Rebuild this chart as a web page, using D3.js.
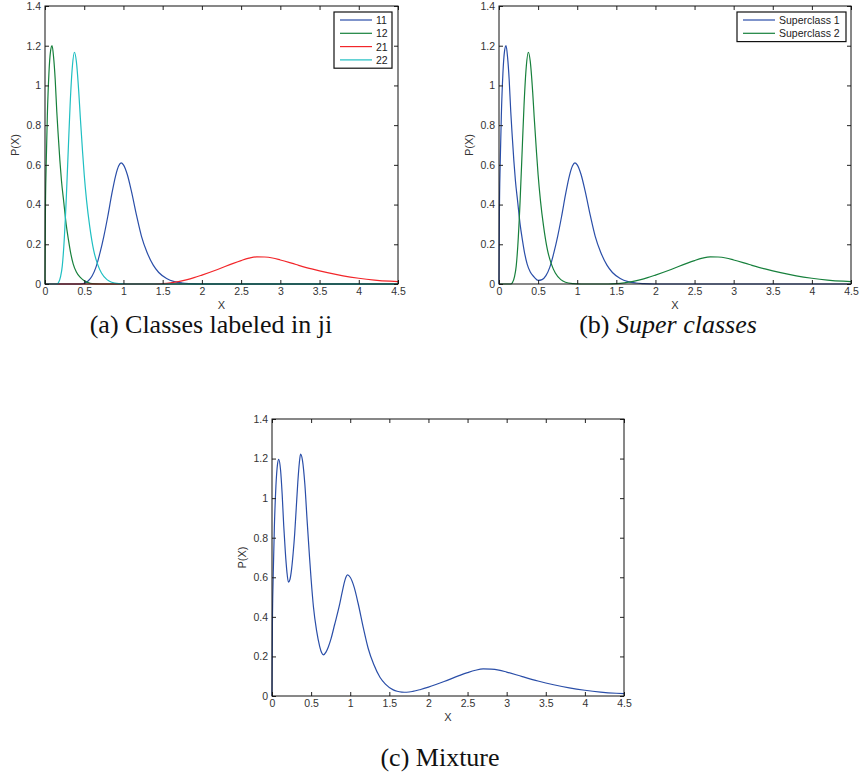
<!DOCTYPE html>
<html>
<head>
<meta charset="utf-8">
<script src="https://cdn.jsdelivr.net/npm/d3@7/dist/d3.min.js"></script>
<style>
  body { margin: 0; background: #fff; }
  svg { display: block; }
  .tick text { font-family: "Liberation Sans", Arial, sans-serif; font-size: 10.5px; fill: #333; }
  .tick line { stroke: #222; }
  .lab { font-family: "Liberation Sans", Arial, sans-serif; font-size: 11px; fill: #333; }
  .leg { font-family: "Liberation Sans", Arial, sans-serif; font-size: 10.5px; fill: #222; }
  .cap { font-family: "Liberation Serif", "Times New Roman", serif; font-size: 26px; fill: #111; }
</style>
</head>
<body>
<svg id="fig" width="860" height="778"></svg>
<script>
// ---------------- data ----------------
var xTicks = [0, 0.5, 1, 1.5, 2, 2.5, 3, 3.5, 4, 4.5];
var yTicks = [0, 0.2, 0.4, 0.6, 0.8, 1, 1.2, 1.4];

// class 11
var class11 = [[0,0],[0.45,0],[0.5,0.004],[0.55,0.015],[0.6,0.04],[0.65,0.085],[0.7,0.155],
  [0.75,0.24],[0.8,0.34],[0.85,0.45],[0.9,0.545],[0.94,0.595],[0.97,0.61],[1.0,0.6],
  [1.05,0.55],[1.1,0.47],[1.17,0.34],[1.23,0.24],[1.3,0.16],[1.38,0.095],[1.45,0.058],
  [1.55,0.028],[1.65,0.012],[1.75,0.005],[1.85,0.002],[2.0,0],[4.5,0]];
// class 12
var class12 = [[0,0],[0.005,0.35],[0.015,0.6],[0.03,0.85],[0.05,1.06],[0.07,1.17],[0.09,1.2],
  [0.11,1.14],[0.13,1.03],[0.15,0.87],[0.17,0.74],[0.19,0.62],[0.21,0.52],[0.24,0.41],
  [0.27,0.3],[0.3,0.22],[0.33,0.15],[0.36,0.1],[0.4,0.06],[0.45,0.033],[0.5,0.016],
  [0.55,0.007],[0.6,0.002],[0.7,0],[4.5,0]];
// class 21
var class21 = [[0,0],[1.4,0],[1.5,0.002],[1.6,0.006],[1.7,0.012],[1.8,0.021],[1.9,0.032],
  [2.0,0.045],[2.2,0.073],[2.4,0.104],[2.5,0.118],[2.6,0.13],[2.7,0.137],[2.8,0.136],
  [2.9,0.131],[3.0,0.121],[3.2,0.098],[3.4,0.076],[3.6,0.057],[3.8,0.041],[4.0,0.029],
  [4.2,0.02],[4.4,0.014],[4.5,0.012]];
// class 22
var class22 = [[0,0],[0.15,0],[0.17,0.006],[0.2,0.04],[0.22,0.09],[0.24,0.19],[0.27,0.42],
  [0.3,0.71],[0.32,0.9],[0.35,1.1],[0.375,1.167],[0.4,1.12],[0.43,0.97],[0.45,0.84],
  [0.48,0.66],[0.5,0.55],[0.53,0.42],[0.57,0.29],[0.62,0.17],[0.67,0.1],[0.72,0.055],
  [0.79,0.022],[0.85,0.009],[0.95,0.002],[1.05,0],[4.5,0]];

// superclasses
var super1 = [[0,0],[0.005,0.35],[0.015,0.6],[0.03,0.85],[0.05,1.06],[0.07,1.17],[0.09,1.2],
  [0.11,1.14],[0.13,1.03],[0.15,0.87],[0.17,0.74],[0.19,0.62],[0.21,0.52],[0.24,0.41],
  [0.27,0.3],[0.3,0.22],[0.33,0.15],[0.36,0.1],[0.4,0.06],[0.45,0.035],[0.5,0.018],
  [0.55,0.022],[0.6,0.042],[0.65,0.085],[0.7,0.155],[0.75,0.24],[0.8,0.34],[0.85,0.45],
  [0.9,0.545],[0.94,0.595],[0.97,0.61],[1.0,0.6],[1.05,0.55],[1.1,0.47],[1.17,0.34],
  [1.23,0.24],[1.3,0.16],[1.38,0.095],[1.45,0.058],[1.55,0.028],[1.65,0.012],
  [1.75,0.005],[1.85,0.002],[2.0,0],[4.5,0]];
var super2 = [[0,0],[0.15,0],[0.17,0.006],[0.2,0.04],[0.22,0.09],[0.24,0.19],[0.27,0.42],
  [0.3,0.71],[0.32,0.9],[0.35,1.1],[0.375,1.167],[0.4,1.12],[0.43,0.97],[0.45,0.84],
  [0.48,0.66],[0.5,0.55],[0.53,0.42],[0.57,0.29],[0.62,0.17],[0.67,0.1],[0.72,0.055],
  [0.79,0.022],[0.85,0.009],[0.95,0.002],[1.05,0],[1.4,0],[1.5,0.002],[1.6,0.006],
  [1.7,0.012],[1.8,0.021],[1.9,0.032],[2.0,0.045],[2.2,0.073],[2.4,0.104],[2.5,0.118],
  [2.6,0.13],[2.7,0.137],[2.8,0.136],[2.9,0.131],[3.0,0.121],[3.2,0.098],[3.4,0.076],
  [3.6,0.057],[3.8,0.041],[4.0,0.029],[4.2,0.02],[4.4,0.014],[4.5,0.012]];

// mixture
var mixture = [[0,0],[0.005,0.35],[0.015,0.6],[0.03,0.85],[0.05,1.06],[0.07,1.17],
  [0.086,1.196],[0.11,1.14],[0.13,1.02],[0.15,0.86],[0.17,0.73],[0.19,0.63],[0.21,0.575],
  [0.23,0.59],[0.25,0.64],[0.27,0.72],[0.29,0.82],[0.31,0.95],[0.33,1.08],[0.35,1.18],
  [0.365,1.222],[0.39,1.19],[0.42,1.07],[0.45,0.88],[0.48,0.7],[0.5,0.59],[0.53,0.45],
  [0.57,0.33],[0.61,0.25],[0.635,0.218],[0.657,0.208],[0.69,0.222],[0.72,0.248],
  [0.755,0.29],[0.8,0.36],[0.86,0.455],[0.9,0.53],[0.93,0.582],[0.965,0.612],[1.0,0.6],
  [1.05,0.55],[1.1,0.47],[1.17,0.34],[1.23,0.24],[1.3,0.16],[1.38,0.095],[1.45,0.06],
  [1.55,0.031],[1.6,0.024],[1.66,0.02],[1.72,0.019],[1.8,0.023],[1.9,0.033],[2.0,0.045],
  [2.2,0.073],[2.4,0.104],[2.5,0.118],[2.6,0.13],[2.7,0.137],[2.8,0.136],[2.9,0.131],
  [3.0,0.121],[3.2,0.098],[3.4,0.076],[3.6,0.057],[3.8,0.041],[4.0,0.029],[4.2,0.02],
  [4.4,0.014],[4.5,0.012]];

var blue = "#2a4ea8", green = "#17803c", red = "#f2262a", cyan = "#1fbfc2";

// ---------------- drawing ----------------
var svg = d3.select("#fig");
var fmt = d3.format("~g");

function panel(box, series, legend) {
    var g = svg.append("g");
    var x = d3.scaleLinear().domain([0, 4.5]).range([box.l, box.r]);
    var y = d3.scaleLinear().domain([0, 1.4]).range([box.b, box.t]);

    var line = d3.line()
        .x(function (d) { return x(d[0]); })
        .y(function (d) { return y(d[1]); })
        .curve(d3.curveMonotoneX);

    // curves
    series.forEach(function (s) {
        g.append("path")
            .datum(s.data)
            .attr("d", line)
            .attr("fill", "none")
            .attr("stroke", s.color)
            .attr("stroke-width", 1.2);
    });

    // axes, ticks pointing inward on all four sides
    var ax = g.append("g").attr("transform", "translate(0," + box.b + ")")
        .call(d3.axisBottom(x).tickValues(xTicks).tickFormat(fmt).tickSizeInner(-4).tickSizeOuter(0).tickPadding(4));
    var ay = g.append("g").attr("transform", "translate(" + box.l + ",0)")
        .call(d3.axisLeft(y).tickValues(yTicks).tickFormat(fmt).tickSizeInner(-4).tickSizeOuter(0).tickPadding(4));
    var at = g.append("g").attr("transform", "translate(0," + box.t + ")")
        .call(d3.axisTop(x).tickValues(xTicks).tickFormat("").tickSizeInner(-4).tickSizeOuter(0));
    var ar = g.append("g").attr("transform", "translate(" + box.r + ",0)")
        .call(d3.axisRight(y).tickValues(yTicks).tickFormat("").tickSizeInner(-4).tickSizeOuter(0));
    [ax, ay, at, ar].forEach(function (a) { a.select(".domain").remove(); });

    g.append("rect")
        .attr("x", box.l).attr("y", box.t)
        .attr("width", box.r - box.l).attr("height", box.b - box.t)
        .attr("fill", "none").attr("stroke", "#111").attr("stroke-width", 1);

    // axis labels
    g.append("text").attr("class", "lab")
        .attr("x", (box.l + box.r) / 2).attr("y", box.b + 25)
        .attr("text-anchor", "middle").text("X");
    g.append("text").attr("class", "lab")
        .attr("transform", "translate(" + (box.l - 26) + "," + ((box.t + box.b) / 2) + ") rotate(-90)")
        .attr("text-anchor", "middle").text("P(X)");

    // legend
    if (legend) {
        var lg = g.append("g");
        lg.append("rect")
            .attr("x", legend.x).attr("y", legend.y)
            .attr("width", legend.w).attr("height", series.length * 13.3 + 3)
            .attr("fill", "#fff").attr("stroke", "#111").attr("stroke-width", 1.2);
        series.forEach(function (s, i) {
            var ly = legend.y + 8 + i * 13.3;
            lg.append("line")
                .attr("x1", legend.x + 6).attr("x2", legend.x + 38)
                .attr("y1", ly).attr("y2", ly)
                .attr("stroke", s.color).attr("stroke-width", 1.2);
            lg.append("text").attr("class", "leg")
                .attr("x", legend.x + 42).attr("y", ly + 4)
                .text(s.name);
        });
    }
    return g;
}

panel({l: 45, r: 398, t: 6, b: 284}, [
    {name: "11", data: class11, color: blue},
    {name: "12", data: class12, color: green},
    {name: "21", data: class21, color: red},
    {name: "22", data: class22, color: cyan}
], {x: 334, y: 12, w: 58});

panel({l: 499, r: 851, t: 6, b: 284}, [
    {name: "Superclass 1", data: super1, color: blue},
    {name: "Superclass 2", data: super2, color: green}
], {x: 737, y: 12, w: 109});

panel({l: 272, r: 624, t: 419, b: 696}, [
    {name: "Mixture", data: mixture, color: blue}
], null);

// captions
svg.append("text").attr("class", "cap")
    .attr("x", 211).attr("y", 333).attr("text-anchor", "middle")
    .text("(a) Classes labeled in ji");
var capB = svg.append("text").attr("class", "cap")
    .attr("x", 668).attr("y", 333).attr("text-anchor", "middle");
capB.append("tspan").text("(b) ");
capB.append("tspan").style("font-style", "italic").text("Super classes");
svg.append("text").attr("class", "cap")
    .attr("x", 440).attr("y", 766).attr("text-anchor", "middle")
    .text("(c) Mixture");
</script>
</body>
</html>
